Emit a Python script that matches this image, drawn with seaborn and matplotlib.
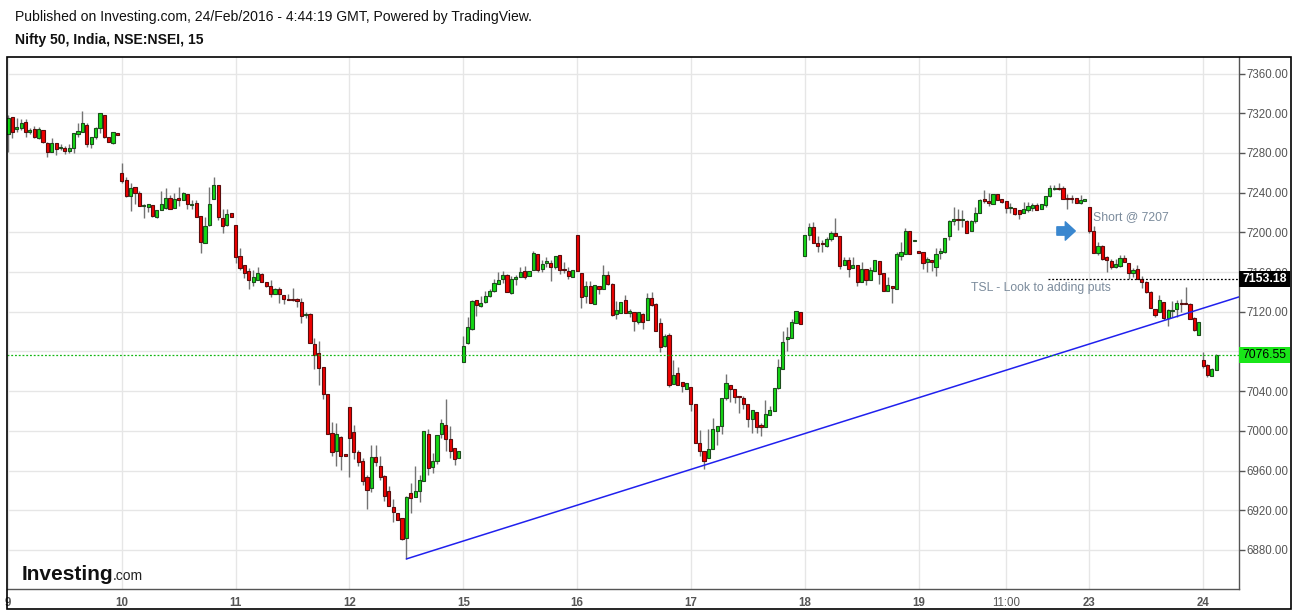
import pandas as pd
import matplotlib.pyplot as plt
import matplotlib.transforms as mtransforms
from matplotlib.patches import Rectangle
import seaborn as sns

# 15-minute candles, (open, high, low, close), one list per session
feb09 = [(7299, 7318, 7281, 7315), (7316, 7316, 7295, 7301.5), (7304, 7315, 7301.5, 7306),
         (7305, 7314, 7303, 7310), (7311, 7314, 7296.5, 7301), (7301.5, 7305, 7299, 7303),
         (7304, 7307, 7295.5, 7296), (7295, 7306, 7294, 7304), (7303, 7303, 7290.5, 7291),
         (7290, 7291, 7276, 7281), (7281, 7295, 7281, 7290), (7290, 7290.5, 7278, 7284),
         (7285.5, 7289, 7283, 7285.8), (7285.5, 7287, 7279, 7282), (7282, 7289, 7280, 7285.5),
         (7285.5, 7300, 7280, 7300), (7299, 7310, 7296.5, 7302), (7301.5, 7322, 7301, 7310),
         (7308, 7310, 7286.5, 7289), (7289, 7296, 7285, 7296), (7296, 7306, 7294, 7305),
         (7305, 7320, 7300, 7320), (7318, 7318, 7295.5, 7296), (7296, 7296.5, 7291, 7291.5),
         (7290, 7301.5, 7289, 7301), (7300, 7300, 7298, 7298)]
feb10 = [(7259.5, 7270, 7250, 7252), (7253, 7255.5, 7236, 7237), (7237, 7249.4, 7222, 7244.4),
         (7245.4, 7245.4, 7229, 7239.4), (7239.4, 7242, 7227, 7227), (7226.7, 7228.4, 7214, 7228),
         (7226, 7229, 7221, 7228.4), (7227.6, 7227.6, 7216, 7217), (7216, 7222.5, 7214, 7222.5),
         (7223, 7242, 7223, 7229), (7225, 7245, 7224, 7235), (7235, 7238, 7224, 7224),
         (7225, 7240, 7225, 7234), (7235, 7245.4, 7226.6, 7232.6), (7233, 7241, 7233, 7239.4),
         (7238.4, 7238.4, 7224, 7228.4), (7227.6, 7232.6, 7224, 7229), (7230, 7232.6, 7216, 7216),
         (7216.5, 7216.5, 7179, 7190.6), (7189, 7216, 7189, 7206.4), (7207, 7246, 7206, 7229),
         (7234, 7256, 7234, 7248), (7248, 7248, 7212.5, 7215), (7214, 7224, 7199, 7206),
         (7207, 7224, 7206, 7219), (7220, 7220, 7215, 7215)]
feb11 = [(7207.4, 7207.4, 7169, 7175.6), (7176, 7184, 7162, 7164.6), (7167, 7167, 7154, 7159.5),
         (7161, 7164, 7143, 7152), (7150.5, 7162, 7146, 7155), (7152, 7165.5, 7152, 7159),
         (7158, 7159, 7150.5, 7150.5), (7150.5, 7150.5, 7145, 7145.5), (7146, 7152, 7134.5, 7138),
         (7138, 7144, 7138, 7143), (7143, 7144.5, 7129, 7138), (7137, 7137, 7128, 7133),
         (7133, 7138, 7132, 7132), (7133, 7143.5, 7130.5, 7131.5), (7132.5, 7134, 7125, 7130.5),
         (7130, 7134, 7109, 7115.4), (7116.6, 7119.4, 7114, 7116.9), (7118, 7118.7, 7089, 7089),
         (7088, 7094, 7062.6, 7076.6), (7078.6, 7090.3, 7046, 7063.5), (7064.6, 7064.6, 7032, 7037.5),
         (7037.5, 7037.5, 6996.4, 6996.4), (6998, 7009.4, 6975, 6979), (6980, 7007.7, 6965, 6996.4),
         (6994.3, 6995, 6961, 6975), (6977, 6977, 6975, 6975)]
feb12 = [(7024.4, 7024.4, 6954, 6993), (6998.4, 7005.7, 6971.6, 6978.3), (6978.3, 6981, 6965, 6968.3),
         (6970, 6972.6, 6945.5, 6950), (6953.2, 6955.9, 6920.8, 6940.8), (6942, 6985.6, 6938.8, 6973.3),
         (6973.3, 6985.6, 6965, 6968.3), (6964.3, 6974.3, 6950.9, 6953.2), (6954.9, 6955.6, 6929.8, 6934.8),
         (6939.2, 6944.2, 6924.1, 6924.1), (6923.1, 6931.5, 6908.7, 6918.1), (6917, 6917, 6910.7, 6910.7),
         (6912, 6912, 6889.7, 6891.4), (6892, 6934.8, 6871.3, 6933), (6937.5, 6947.5, 6917, 6932.1),
         (6932.9, 6964.9, 6932.9, 6939), (6939.2, 6955.6, 6928.8, 6950.5), (6949.9, 7000, 6949.9, 7000),
         (6996.7, 7001.7, 6955.6, 6962.2), (6963.2, 6977.6, 6957.6, 6969.3), (6969.6, 6995.7, 6966.6, 6995.7),
         (6996.7, 7011.7, 6993.3, 7008.4), (7005.7, 7031.8, 6980, 6992.3), (6991.7, 7005, 6972.3, 6980),
         (6982.3, 6982.3, 6966, 6971.6), (6972.3, 6980, 6972.3, 6980)]
feb15 = [(7069.5, 7095.6, 7069.5, 7085.5), (7088.9, 7115, 7087.2, 7104.9), (7102.3, 7131.7, 7101.6, 7130.7),
         (7131.4, 7131.4, 7115.7, 7126.4), (7125.7, 7136.4, 7125, 7129), (7129.7, 7140.8, 7128.4, 7136.4),
         (7135.7, 7143.4, 7134.7, 7140.8), (7140.8, 7153.1, 7139.8, 7148.5), (7148.1, 7159.8, 7147.5, 7152.5),
         (7153.5, 7160.8, 7149.1, 7157.5), (7157.5, 7158.5, 7139.8, 7139.8), (7139.1, 7155.8, 7138.4, 7153.1),
         (7153.5, 7157.5, 7146.8, 7155.2), (7155.2, 7165.2, 7155.2, 7160.2), (7161.5, 7166.5, 7153.1, 7155.2),
         (7155.8, 7161.5, 7155.8, 7161.5), (7161.8, 7180.9, 7161.8, 7179.3), (7178.2, 7178.2, 7159.8, 7161.8),
         (7163.2, 7171.9, 7159.8, 7168.5), (7169.2, 7174.9, 7164.9, 7171.5), (7169.2, 7172.6, 7150.8, 7165.2),
         (7165.2, 7176.6, 7163.2, 7176.6), (7177.6, 7177.6, 7158.5, 7161.8), (7163.5, 7169.9, 7159.2, 7161.8),
         (7161.5, 7165.2, 7153.1, 7155.8), (7155.2, 7162.5, 7155.2, 7162.5)]
feb16 = [(7197.7, 7197.7, 7160.8, 7160.8), (7159.2, 7159.2, 7123.4, 7135.1), (7135.7, 7150.8, 7129, 7146.4),
         (7146.4, 7151.5, 7129, 7129), (7128, 7147.1, 7128, 7147.1), (7145.8, 7145.8, 7138.4, 7143.4),
         (7143.4, 7167.5, 7143.1, 7157.5), (7157.5, 7160.8, 7146.8, 7147.5), (7147.5, 7149.1, 7115.7, 7116.7),
         (7118, 7130.7, 7112.3, 7121.3), (7119, 7130, 7119, 7130), (7131.4, 7137.4, 7119, 7119),
         (7119, 7123, 7115, 7120.3), (7120, 7120, 7100.6, 7110.6), (7110, 7120, 7108, 7120),
         (7118, 7119, 7102.3, 7110), (7111.3, 7139.1, 7111.3, 7134.1), (7133.4, 7139.8, 7125.7, 7126.7),
         (7127.4, 7128.4, 7100.6, 7100.6), (7109, 7113.3, 7079.5, 7084.5), (7085.5, 7097.9, 7084.5, 7095.6),
         (7096.2, 7098.9, 7044.4, 7046.4), (7047.7, 7071.2, 7047.7, 7056.1), (7058.1, 7064.4, 7046.4, 7046.4),
         (7049.4, 7049.4, 7038.7, 7045.4), (7042.7, 7048.1, 7042.7, 7048.1)]
feb17 = [(7044.5, 7044.5, 7020, 7027.4), (7026.8, 7026.8, 6987.3, 6987.3), (6988.3, 7001, 6975, 6979.3),
         (6979.3, 6979.3, 6961.6, 6970), (6972.3, 7002.4, 6972.3, 6981.6), (6981.6, 7012.7, 6981.6, 7001.7),
         (7000, 7005, 6986, 7005), (7005, 7033.5, 6996.7, 7032.8), (7032.8, 7056.9, 7030.8, 7048.5),
         (7046.2, 7046.2, 7029.1, 7042.5), (7042.5, 7042.5, 7028.5, 7034.5), (7035.1, 7035.1, 7018.4, 7034.1),
         (7033.5, 7035.1, 7021.8, 7027.4), (7027.4, 7027.4, 7004.4, 7012.4), (7012.4, 7020.8, 6997.4, 7020.8),
         (7019.4, 7019.4, 6997.4, 7004.1), (7005.7, 7008.4, 6995, 7004.1), (7004.1, 7030.8, 7004.1, 7016.8),
         (7016.1, 7025.1, 7016.1, 7020.8), (7020.1, 7043.5, 7020.1, 7043.5), (7042.8, 7072, 7041.8, 7064.6),
         (7062.6, 7101, 7062.6, 7089.7), (7092.7, 7104.4, 7080.3, 7094.3), (7093.7, 7113, 7093.7, 7109.7),
         (7108.7, 7121.1, 7108.7, 7121.1), (7119.7, 7119.7, 7107.7, 7107.7)]
feb18 = [(7176.3, 7197.3, 7176.3, 7197.3), (7197.3, 7209.7, 7192.3, 7205), (7205, 7210.7, 7189, 7189),
         (7189, 7196.3, 7180, 7186.6), (7188.6, 7192.3, 7180, 7188), (7186.6, 7195.7, 7185.6, 7193.3),
         (7193, 7201.3, 7191.3, 7199), (7199, 7214, 7196.7, 7196.7), (7196.3, 7196.3, 7163.2, 7166.6),
         (7167.2, 7175.6, 7167.2, 7172.2), (7172.2, 7174.9, 7155.5, 7163.2), (7164.6, 7175.6, 7164.6, 7167.2),
         (7167.2, 7167.2, 7145.5, 7150.5), (7150.5, 7170.6, 7150.5, 7163.2), (7163.2, 7163.2, 7147.2, 7152.2),
         (7152.2, 7165.6, 7152.2, 7162.2), (7161.5, 7172.2, 7161.5, 7172.2), (7171.2, 7171.2, 7148.2, 7158.2),
         (7158.9, 7158.9, 7140.5, 7140.5), (7140.5, 7155.5, 7140.5, 7147.2), (7146.2, 7146.2, 7128.8, 7143.8),
         (7143.2, 7180.6, 7143.2, 7178.3), (7176.6, 7190.6, 7172.2, 7179.9), (7177.9, 7204, 7177.9, 7201.3),
         (7201.3, 7201.3, 7177.9, 7177.9), (7191.3, 7191.6, 7191.3, 7191.6)]
feb19 = [(7181.3, 7181.3, 7179.6, 7179.6), (7179.9, 7179.9, 7163.2, 7168.9), (7170.6, 7175.6, 7160.5, 7173.2),
         (7172.2, 7172.2, 7161.2, 7169.9), (7165.3, 7184.3, 7156, 7178.3), (7179.3, 7184.3, 7173.3, 7181),
         (7180, 7194.3, 7179.3, 7194.3), (7196.7, 7212.7, 7192, 7211), (7211, 7226, 7207.7, 7213.3),
         (7213.3, 7223.3, 7202, 7212), (7212, 7222.7, 7205.3, 7213.3), (7211, 7212.7, 7199.3, 7199.3),
         (7201, 7212.7, 7201, 7211)]
feb22 = [(7211.7, 7226, 7209.3, 7220), (7220, 7233.3, 7220, 7232.7), (7233.3, 7242.7, 7229.3, 7231.7),
         (7231.7, 7239.3, 7226.7, 7229.3), (7228.3, 7238.3, 7228.3, 7238.3), (7238.3, 7238.3, 7232.7, 7232.7),
         (7233.3, 7233.3, 7229.3, 7231), (7231.7, 7231.7, 7220, 7224.3), (7224.3, 7230, 7219.3, 7226),
         (7224.3, 7224.3, 7217.7, 7218.3), (7222.7, 7222.7, 7213.3, 7218.3), (7219.3, 7231, 7219.3, 7223.3),
         (7222.7, 7230.3, 7220.3, 7226.7), (7224.3, 7230, 7222, 7227.7), (7227.7, 7229.3, 7222.7, 7222.7),
         (7223.3, 7228.3, 7223.3, 7228.3), (7227.7, 7236.7, 7226, 7236.7), (7236.7, 7247.7, 7235.3, 7244.3),
         (7243.7, 7247.7, 7242.7, 7244.3), (7245, 7250, 7242.7, 7243.3), (7244.3, 7246.7, 7233.3, 7233.3),
         (7234.3, 7238.3, 7223.3, 7233.7), (7234.3, 7237.7, 7230, 7233.3), (7234.3, 7234.3, 7230, 7230),
         (7230, 7237.7, 7228.3, 7232.7), (7232, 7233.3, 7232, 7233.3)]
feb23 = [(7225.3, 7225.3, 7199.3, 7201), (7201, 7206, 7179.3, 7179.3), (7179.3, 7190, 7177.7, 7186),
         (7186.7, 7187.7, 7172, 7172.7), (7175, 7176, 7160, 7172), (7171, 7172.7, 7163.3, 7165),
         (7165.3, 7172.7, 7164.3, 7167.7), (7166, 7177.7, 7165.3, 7174.3), (7174.3, 7177.7, 7170, 7170),
         (7169.3, 7169.3, 7153.3, 7158.7), (7159.3, 7164.3, 7155.3, 7162), (7162.7, 7166.7, 7152.7, 7153.3),
         (7153.3, 7156, 7144.3, 7150), (7150.3, 7151, 7139.3, 7140.3), (7140.3, 7141, 7124.3, 7124.3),
         (7122.7, 7122.7, 7114.3, 7116.7), (7119.3, 7136.7, 7119.3, 7131.7), (7130, 7130, 7112, 7113.3),
         (7113.3, 7123.3, 7106, 7121.7), (7120.7, 7131, 7114.3, 7121.7), (7122.7, 7131.7, 7114.3, 7129.3),
         (7129.3, 7132.7, 7120, 7128.3), (7129.3, 7145.3, 7127.7, 7128.3), (7127.7, 7129.3, 7112.7, 7112.7),
         (7113.3, 7114.3, 7101, 7101.7), (7096.7, 7109.3, 7096.7, 7109.3)]
feb24 = [(7071.7, 7079.3, 7063.7, 7065), (7066, 7067.7, 7054.3, 7056), (7055.3, 7063.3, 7055.3, 7062.7),
         (7061.7, 7077, 7061, 7076.55)]

# time axis labels and the bar they sit on
tick_bars = [0, 26, 52, 78, 104, 130, 156, 182, 208, 228, 247, 273]
tick_labels = ["9", "10", "11", "12", "15", "16", "17", "18", "19", "11:00", "23", "24"]
price_ticks = [6880, 6920, 6960, 7000, 7040, 7080, 7120, 7160, 7200, 7240, 7280, 7320, 7360]

# drawings
trend_bar = [91, 281.2]
trend_price = [6871, 7135]
tsl_level = 7153.18
tsl_start_bar = 237.5
last_price = 7076.55

sessions = [feb09, feb10, feb11, feb12, feb15, feb16, feb17, feb18, feb19, feb22, feb23, feb24]
rows = [c for s in sessions for c in s]
df = pd.DataFrame(rows, columns=["open", "high", "low", "close"])
df["bar"] = range(len(df))
df["up"] = df["close"] >= df["open"]

sns.set_theme(style="white")
plt.rcParams['font.family'] = ['Liberation Sans', 'DejaVu Sans']

W, H = 1297, 613
fig = plt.figure(figsize=(W / 100, H / 100), dpi=100)
fig.patch.set_facecolor("white")
ax = fig.add_axes([7 / W, 1 - 589 / H, (1239 - 7) / W, (589 - 57) / H])
ax.set_facecolor("white")

# grid
for b in tick_bars:
    ax.axvline(b, color="#e6e6e6", lw=1, zorder=0)
for p in price_ticks:
    ax.axhline(p, color="#e6e6e6", lw=1, zorder=0)

# wicks
ax.vlines(df["bar"], df["low"], df["high"], color="#737373", lw=1, zorder=2)

# bodies
body_bottom = df[["open", "close"]].min(axis=1)
body_height = (df["close"] - df["open"]).abs().clip(lower=0.9)
face = df["up"].map({True: "#14d814", False: "#f00000"})
edge = df["up"].map({True: "#1d4d1d", False: "#5a0d0d"})
ax.bar(df["bar"], body_height, bottom=body_bottom, width=0.72,
       color=face, edgecolor=edge, linewidth=0.8, zorder=3)

# trend line
sns.lineplot(x=trend_bar, y=trend_price, color="#2020ee", lw=1.1, ax=ax, zorder=4)

# level lines
ax.axhline(last_price, color="#14b814", lw=0.9, ls=(0, (1.5, 1.5)), zorder=4)
ax.hlines(tsl_level, tsl_start_bar, 281.2, color="black", lw=0.9, ls=(0, (1.5, 1.5)), zorder=4)

ax.set_xlim(-0.23, 281.2)
ax.set_ylim(6840.7, 7376.7)

ax.set_xticks(tick_bars)
ax.set_xticklabels(tick_labels)
for lbl in ax.get_xticklabels():
    lbl.set_fontweight("normal" if ":" in lbl.get_text() else "bold")
ax.set_yticks(price_ticks)
ax.set_yticklabels([f"{p:.2f}" for p in price_ticks])
ax.yaxis.tick_right()
ax.tick_params(axis="both", colors="#555555", labelsize=8.3, length=4, width=1, direction="out")
ax.tick_params(axis="y", pad=1.5)
ax.tick_params(axis="x", pad=2)

for side in ["left", "top"]:
    ax.spines[side].set_visible(False)
for side in ["right", "bottom"]:
    ax.spines[side].set_color("#555555")
    ax.spines[side].set_linewidth(1)

# price labels on the scale, boxes hide the tick labels under them
trans = mtransforms.blended_transform_factory(ax.transAxes, ax.transData)
box_w = (1290 - 1239) / (1239 - 7)
box_h = 15.5 * (7376.7 - 6840.7) / (589 - 57)
for level, fc, tc, weight in [(tsl_level, "black", "white", "bold"),
                              (last_price, "#19e619", "black", "normal")]:
    ax.add_patch(Rectangle((1.0, level - box_h / 2), box_w, box_h, transform=trans,
                           fc=fc, ec="none", clip_on=False, zorder=6))
    ax.text(1.0 + box_w / 2, level, f"{level:.2f}", transform=trans, ha="center", va="center",
            color=tc, fontsize=8.8, fontweight=weight, zorder=7, clip_on=False)

# notes
ax.text(247.8, 7215.5, "Short @ 7207", color="#7b8b9c", fontsize=8.8, va="center", ha="left")
ax.text(220, 7143.5, "TSL - Look to adding puts", color="#7b8b9c", fontsize=8.8, va="center", ha="left")
ax.annotate("", xy=(243.8, 7201.4), xytext=(239.6, 7201.4),
            arrowprops=dict(arrowstyle="simple,head_length=0.6,head_width=1.1,tail_width=0.5",
                            color="#3a87cf", mutation_scale=12, shrinkA=0, shrinkB=0), zorder=5)

# logo
fig.text(22 / W, 1 - 580 / H, "Investing", fontsize=15, fontweight="bold", color="#111111",
         va="baseline", ha="left")
fig.text(113 / W, 1 - 580 / H, ".com", fontsize=10, color="#222222", va="baseline", ha="left")

# header
fig.text(15 / W, 1 - 17 / H, "Published on Investing.com, 24/Feb/2016 - 4:44:19 GMT, Powered by TradingView.",
         fontsize=10.1, color="#111111", va="center", ha="left")
fig.text(15 / W, 1 - 40 / H, "Nifty 50, India, NSE:NSEI, 15", fontsize=10.1, fontweight="bold",
         color="#111111", va="center", ha="left")

# outer frame
fig.add_artist(Rectangle((7 / W, 1 - 609 / H), (1291 - 7) / W, (609 - 57) / H,
                         transform=fig.transFigure, fill=False, ec="black", lw=1.2))

fig.savefig("out.png", dpi=100, facecolor="white")
